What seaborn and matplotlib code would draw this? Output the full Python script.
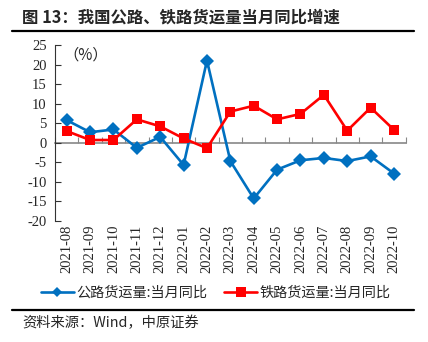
import matplotlib
matplotlib.use('Agg')
import matplotlib.pyplot as plt
import seaborn as sns
import pandas as pd
from matplotlib.lines import Line2D
from matplotlib.ticker import FixedLocator, NullFormatter

months = ['2021-08', '2021-09', '2021-10', '2021-11', '2021-12', '2022-01', '2022-02',
          '2022-03', '2022-04', '2022-05', '2022-06', '2022-07', '2022-08', '2022-09', '2022-10']
road = [5.8, 2.7, 3.4, -1.3, 1.5, -5.7, 21.1, -4.7, -14.3, -6.9, -4.5, -3.9, -4.7, -3.5, -7.9]
rail = [3.0, 0.7, 0.7, 6.0, 4.2, 1.1, -1.4, 8.0, 9.5, 6.0, 7.4, 12.3, 3.1, 9.0, 3.3]
series_names = ['公路货运量:当月同比', '铁路货运量:当月同比']
y_ticks = [25, 20, 15, 10, 5, 0, -5, -10, -15, -20]
title = '图 13：我国公路、铁路货运量当月同比增速'
source = '资料来源：Wind，中原证券'
unit = '（%）'

sns.set_style('white')
plt.rcParams['font.family'] = ['Noto Sans CJK SC', 'DejaVu Sans']
plt.rcParams['axes.unicode_minus'] = False

df = pd.DataFrame({
    'month': months * 2,
    'value': road + rail,
    'series': [series_names[0]] * len(months) + [series_names[1]] * len(months),
})

fig = plt.figure(figsize=(4.28, 3.42), dpi=100)
ax = fig.add_axes([55 / 428, 1 - 220.7 / 342, (405.7 - 55) / 428, (220.7 - 45.3) / 342])

colors = {series_names[0]: '#0070C0', series_names[1]: '#FF0000'}
sns.lineplot(data=df, x='month', y='value', hue='series', style='series',
             palette=colors, markers={series_names[0]: 'D', series_names[1]: 's'},
             dashes=False, linewidth=1.9, markersize=7.2, markeredgewidth=0,
             sort=False, ax=ax)

ax.set_xlim(-0.5, len(months) - 0.5)
ax.set_ylim(-20, 25)
ax.set_yticks(y_ticks)
ax.set_yticklabels([str(v) for v in y_ticks], fontfamily='Liberation Serif', fontsize=10.5)
ax.set_xlabel('')
ax.set_ylabel('')

for s in ['top', 'right']:
    ax.spines[s].set_visible(False)
ax.spines['left'].set_color('#333333')
ax.spines['left'].set_linewidth(0.8)
ax.spines['bottom'].set_position(('data', 0))
ax.spines['bottom'].set_color('#888888')
ax.spines['bottom'].set_linewidth(1.2)
ax.spines['bottom'].set_zorder(0)

ax.tick_params(axis='y', direction='in', length=4, width=0.8, color='#333333', pad=6, left=True)
ax.xaxis.set_minor_locator(FixedLocator([i - 0.5 for i in range(len(months) + 1)]))
ax.xaxis.set_minor_formatter(NullFormatter())
ax.tick_params(axis='x', which='minor', direction='in', length=4, width=0.8, color='#888888', bottom=True)
ax.tick_params(axis='x', which='major', length=0, pad=59)
ax.set_xticks(range(len(months)))
ax.set_xticklabels(months, rotation=90, fontfamily='Liberation Serif', fontsize=10.5, va='top')

ax.text(0.025, 0.945, unit, transform=ax.transAxes, fontsize=11, va='center', ha='left')

handles, labels = ax.get_legend_handles_labels()
if ax.get_legend() is not None:
    ax.get_legend().remove()
leg_handles = []
for h, ms in zip(handles, [5.0, 6.5]):
    leg_handles.append(Line2D([], [], color=h.get_color(), lw=1.9, marker=h.get_marker(),
                              markersize=ms, markeredgewidth=0))
fig.legend(leg_handles, labels, loc='center', bbox_to_anchor=(216 / 428, 1 - 293 / 342),
           ncol=2, frameon=False, fontsize=10.2, handlelength=2.3, handletextpad=0.2,
           columnspacing=1.2, borderaxespad=0)

fig.text(22 / 428, 1 - 17 / 342, title, fontsize=11.8, fontweight='bold', va='center', ha='left')
fig.add_artist(Line2D([12 / 428, 414 / 428], [1 - 31 / 342, 1 - 31 / 342], color='black', lw=1.6,
                      transform=fig.transFigure))
fig.add_artist(Line2D([12 / 428, 414 / 428], [1 - 309.5 / 342, 1 - 309.5 / 342], color='black', lw=1.6,
                      transform=fig.transFigure))
fig.text(22 / 428, 1 - 323 / 342, source, fontsize=10.3, va='center', ha='left')

fig.savefig('out.png', dpi=100)
